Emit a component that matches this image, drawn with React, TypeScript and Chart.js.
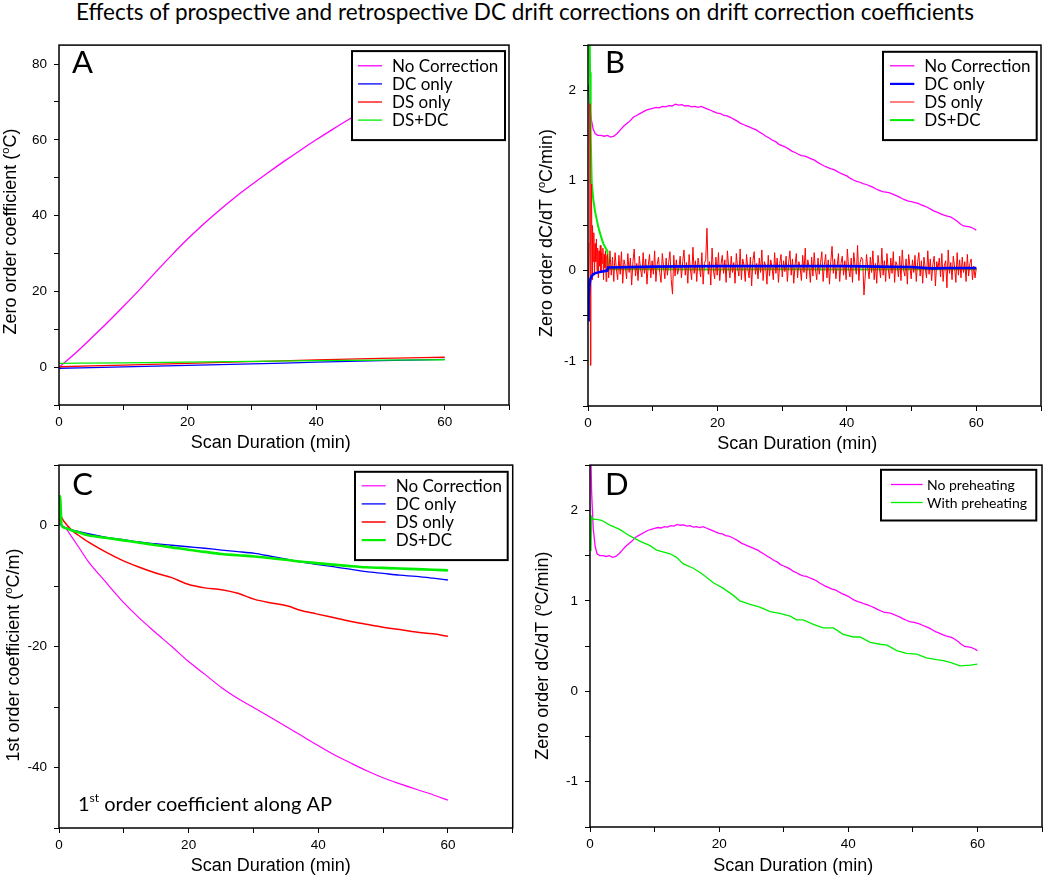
import React, { useEffect, useRef } from 'react';
import { Chart, registerables } from 'chart.js';

Chart.register(...registerables);
Chart.defaults.font.family = '"Liberation Sans", Arial, sans-serif';
Chart.defaults.color = '#000';

// ---------------- DATA ----------------
const chartTitle = 'Effects of prospective and retrospective DC drift corrections on drift correction coefficients';
const xTitle = 'Scan Duration (min)';

// Panel A: zero order coefficient
const aTimeCurve = [0, 2.5, 5, 7.5, 10, 12.5, 15, 17.5, 20, 22.5, 25, 27.5, 30, 32.5, 35, 37.5, 40, 42.5, 45, 47.5, 50, 52.5, 55, 57.5, 60];
const aNoCorrection = [0, 3.6, 7.6, 11.7, 16.0, 20.4, 25.0, 29.5, 33.8, 37.8, 41.5, 45.0, 48.2, 51.3, 54.3, 57.2, 60.0, 62.7, 65.3, 67.7, 70.0, 72.0, 74.0, 75.8, 77.5];
const aTimeFlat = [0, 10, 20, 30, 40, 50, 60];
const aDCOnly = [-0.3, 0.05, 0.45, 0.85, 1.3, 1.7, 2.05];
const aDSOnly = [0.1, 0.55, 1.0, 1.45, 1.9, 2.3, 2.6];
const aDSDC = [1.0, 1.1, 1.3, 1.5, 1.7, 1.85, 1.95];

// Panel B / D: zero order dC/dT, "No Correction" (= "No preheating")
const bNoCorrHeadTime = [0.05, 0.2, 0.35, 0.5, 0.8, 1.1];
const bNoCorrHead = [2.06, 1.9, 1.78, 1.68, 1.57, 1.52];
const dNoPreheatHeadTime = [0.1, 0.25, 0.5, 0.8, 1.1];
const dNoPreheatHead = [2.7, 2.2, 1.8, 1.6, 1.52];
const noCorrEarlyTime = [1.5, 2, 2.5, 3, 3.5, 4, 4.5, 5, 5.5, 6, 6.5, 7, 7.5, 8, 8.5, 9, 9.5];
const noCorrEarly = [1.5, 1.5, 1.49, 1.5, 1.48, 1.49, 1.52, 1.56, 1.6, 1.63, 1.66, 1.7, 1.72, 1.74, 1.76, 1.78, 1.79];
// sampled every 0.5 min from 10 to 60 min
const noCorrLateStart = 10;
const noCorrLateStep = 0.5;
const noCorrLate = [
  1.8, 1.81, 1.805, 1.82, 1.815, 1.83, 1.825, 1.845, 1.835, 1.84,
  1.825, 1.83, 1.815, 1.82, 1.81, 1.82, 1.805, 1.79, 1.775, 1.76,
  1.745, 1.74, 1.72, 1.715, 1.7, 1.68, 1.66, 1.635, 1.62, 1.605,
  1.59, 1.575, 1.56, 1.535, 1.515, 1.49, 1.47, 1.445, 1.43, 1.4,
  1.385, 1.37, 1.35, 1.325, 1.31, 1.29, 1.275, 1.27, 1.255, 1.24,
  1.225, 1.2, 1.18, 1.16, 1.145, 1.13, 1.12, 1.1, 1.08, 1.065,
  1.05, 1.025, 1.005, 0.99, 0.98, 0.965, 0.955, 0.94, 0.925, 0.905,
  0.89, 0.875, 0.87, 0.865, 0.85, 0.835, 0.82, 0.8, 0.785, 0.77,
  0.765, 0.755, 0.745, 0.73, 0.715, 0.7, 0.68, 0.66, 0.645, 0.63,
  0.615, 0.605, 0.595, 0.575, 0.55, 0.52, 0.495, 0.49, 0.485, 0.47,
  0.45,
];

const bDCTime = [0.05, 0.1, 0.2, 0.35, 0.5, 0.8, 1.2, 1.8, 2.5, 3.0, 3.1, 10, 20, 30, 40, 45, 50, 53, 56, 60];
const bDCOnly = [-0.55, -0.3, -0.17, -0.1, -0.07, -0.04, -0.025, -0.015, -0.005, 0.0, 0.035, 0.045, 0.05, 0.05, 0.05, 0.045, 0.04, 0.025, 0.03, 0.03];

const bDSDCTime = [0.2, 0.31, 0.41, 0.57, 0.8, 1.08, 1.6, 2.0, 2.37, 2.8, 3.0, 3.1, 10, 20, 30, 40, 50, 60];
const bDSDC = [3.2, 2.2, 1.52, 0.98, 0.8, 0.66, 0.48, 0.38, 0.3, 0.24, 0.22, 0.015, 0.015, 0.012, 0.015, 0.012, 0.015, 0.015];

const bDSEarlyTime = [0.1, 0.2, 0.3, 0.38, 0.45, 0.55, 0.62, 0.7, 0.8, 0.9, 1.0, 1.1, 1.2, 1.3, 1.4, 1.5, 1.6, 1.7, 1.8, 1.9, 2.0, 2.1, 2.2, 2.3, 2.4, 2.5, 2.6, 2.7, 2.8, 2.9];
const bDSEarly = [-0.2, 0.3, 1.85, -1.05, 0.4, 0.96, -0.1, 0.5, 0.1, 0.42, -0.05, 0.3, 0.1, 0.35, 0.0, 0.25, -0.08, 0.22, 0.05, 0.28, -0.02, 0.2, 0.08, 0.25, -0.1, 0.18, 0.03, 0.22, -0.12, 0.15];
// evenly sampled from 3 to 60 min
const bDSNoiseStart = 3;
const bDSNoiseEnd = 60;
const bDSNoise = [
  0.18, -0.08, 0.22, -0.05, 0.15, -0.12, 0.2, 0.02, -0.1, 0.17,
  -0.04, 0.21, -0.14, 0.12, 0.05, -0.09, 0.19, -0.02, 0.14, -0.16,
  0.1, 0.24, -0.06, 0.08, -0.11, 0.16, 0.01, -0.07, 0.2, -0.03,
  0.13, -0.15, 0.06, 0.18, -0.08, 0.11, -0.04, 0.22, -0.12, 0.07,
  0.15, -0.02, -0.13, 0.19, 0.04, -0.09, 0.14, -0.05, 0.09, 0.21,
  -0.1, -0.26, 0.17, -0.06, 0.12, -0.04, 0.03, 0.16, -0.08, 0.1,
  0.23, -0.05, 0.09, -0.14, 0.18, 0.02, -0.1, 0.26, -0.03, 0.11,
  -0.12, 0.14, 0.05, -0.07, 0.2, -0.15, 0.08, 0.12, 0.47, -0.04,
  0.1, -0.16, 0.25, 0.01, -0.09, 0.15, -0.05, 0.2, -0.11, 0.07,
  0.17, -0.03, 0.12, -0.13, 0.22, 0.04, -0.08, 0.16, -0.02, 0.09,
  -0.14, 0.19, 0.03, -0.06, 0.24, -0.1, 0.13, 0.06, -0.12, 0.18,
  0.02, -0.08, 0.15, -0.17, 0.11, 0.21, -0.04, 0.08, -0.09, 0.14,
  -0.02, 0.23, -0.11, 0.1, 0.05, -0.15, 0.17, -0.06, 0.12, 0.03,
  -0.1, 0.2, -0.03, 0.14, -0.13, 0.08, 0.18, -0.07, 0.11, -0.01,
  0.16, -0.12, 0.09, 0.22, -0.05, 0.13, -0.14, 0.06, 0.19, -0.08,
  0.1, 0.03, -0.11, 0.17, -0.02, 0.25, -0.09, 0.12, 0.04, -0.13,
  0.15, -0.06, 0.2, 0.01, -0.1, 0.14, -0.04, 0.09, 0.21, -0.12,
  0.07, 0.18, -0.08, 0.12, -0.15, 0.1, 0.27, -0.03, 0.13, -0.09,
  0.05, 0.19, -0.12, 0.08, 0.16, -0.05, 0.11, -0.1, 0.24, 0.02,
  -0.07, 0.14, -0.13, 0.2, 0.06, -0.04, 0.28, -0.11, 0.09, 0.15,
  0.12, -0.27, -0.06, 0.18, 0.03, -0.09, 0.15, -0.02, 0.22, -0.1,
  0.08, -0.14, 0.17, 0.04, -0.08, 0.25, -0.05, 0.11, -0.12, 0.19,
  0.02, -0.09, 0.14, -0.03, 0.21, -0.13, 0.1, 0.06, -0.07, 0.16,
  -0.11, 0.23, 0.01, -0.06, 0.13, -0.15, 0.18, 0.05, -0.09, 0.12,
  -0.02, 0.17, -0.12, 0.09, 0.2, -0.06, 0.11, -0.14, 0.15, 0.03,
  -0.08, 0.22, -0.04, 0.13, -0.11, 0.07, 0.16, -0.17, 0.1, 0.02,
  0.14, -0.07, 0.19, -0.12, 0.06, 0.11, -0.19, 0.23, -0.03, 0.09,
  -0.1, 0.16, 0.04, -0.13, 0.2, -0.05, 0.12, -0.08, 0.15, -0.02,
  0.1, -0.12, 0.18, -0.06, 0.08, 0.13, -0.1, 0.05, -0.08, 0.03,
];

// Panel C: 1st order coefficient
const cTime = [0, 0.15, 0.4, 0.9, 2.0, 3.0, 4.5, 7.1, 9.7, 12.2, 14.8, 17.4, 19.9, 22.5, 25.1, 27.6, 30.2, 32.8, 35.3, 37.2, 39.7, 42.3, 44.9, 47.4, 50.0, 52.6, 55.1, 57.7, 60];
const cNoCorrection = [0.3, 0.2, 0.0, -0.3, -1.9, -3.5, -5.9, -9.2, -12.4, -15.1, -17.6, -20.0, -22.4, -24.6, -26.8, -28.6, -30.2, -31.8, -33.4, -34.6, -36.2, -37.8, -39.2, -40.5, -41.7, -42.7, -43.6, -44.5, -45.4];
const cDCOnly = [0.2, 0.3, 0.0, -0.3, -0.7, -0.95, -1.35, -1.9, -2.3, -2.7, -3.0, -3.25, -3.5, -3.75, -4.05, -4.3, -4.6, -5.1, -5.6, -6.0, -6.4, -6.8, -7.2, -7.6, -7.9, -8.2, -8.4, -8.7, -9.0];
const cDSOnly = [0.5, 1.8, 1.35, 0.5, -0.8, -1.6, -2.7, -4.3, -5.7, -6.8, -7.8, -8.6, -9.7, -10.3, -10.6, -11.2, -12.2, -12.8, -13.3, -14.0, -14.6, -15.2, -15.8, -16.3, -16.8, -17.2, -17.6, -17.9, -18.3];
const cDSDC = [1.0, 4.9, 0.0, -0.4, -0.8, -1.1, -1.6, -2.0, -2.4, -2.8, -3.2, -3.6, -4.0, -4.35, -4.7, -4.9, -5.1, -5.4, -5.7, -5.95, -6.2, -6.45, -6.7, -6.9, -7.0, -7.1, -7.2, -7.3, -7.4];

// Panel D: with preheating
const dPreheatTime = [0.15, 0.25, 0.5, 1.0, 1.8, 3.0, 4.6, 6.1, 7.7, 9.3, 10.3, 12.4, 13.4, 14.4, 16.0, 17.5, 19.1, 20.6, 22.2, 23.2, 24.8, 26.3, 27.9, 29.4, 31.0, 32.0, 33.0, 34.6, 36.1, 37.7, 39.2, 40.8, 41.8, 43.4, 44.9, 46.0, 47.5, 49.0, 50.6, 52.1, 53.7, 54.7, 55.8, 57.3, 58.9, 60];
const dWithPreheat = [1.55, 1.93, 1.9, 1.9, 1.89, 1.84, 1.79, 1.72, 1.66, 1.61, 1.56, 1.52, 1.48, 1.41, 1.36, 1.29, 1.2, 1.14, 1.06, 1.0, 0.96, 0.93, 0.88, 0.86, 0.83, 0.79, 0.79, 0.74, 0.7, 0.7, 0.63, 0.6, 0.6, 0.54, 0.52, 0.51, 0.45, 0.42, 0.41, 0.37, 0.35, 0.34, 0.32, 0.28, 0.29, 0.3];

const legendA = ['No Correction', 'DC only', 'DS only', 'DS+DC'];
const legendD = ['No preheating', 'With preheating'];

// ---------------- STYLE ----------------
const MAGENTA = '#ff00ff';
const BLUE = '#0000ff';
const RED = '#ff0000';
const GREEN = '#00ee00';
const LABEL_FONT = 'Lato, "Open Sans", sans-serif';
const AXIS_FONT = '"Liberation Sans", Arial, sans-serif';

type Pt = { x: number; y: number };
const zip = (t: number[], v: number[]): Pt[] => t.map((x, i) => ({ x, y: v[i] }));
const grid = (start: number, step: number, v: number[]): Pt[] => v.map((y, i) => ({ x: start + i * step, y }));
const spread = (start: number, end: number, v: number[]): Pt[] =>
  v.map((y, i) => ({ x: start + (i * (end - start)) / (v.length - 1), y }));

const noCorrTail = [...zip(noCorrEarlyTime, noCorrEarly), ...grid(noCorrLateStart, noCorrLateStep, noCorrLate)];

type Series = { label: string; data: Pt[]; color: string; width: number; order: number; smooth?: boolean };
type LegendSpec = { rightGap: number; topGap: number; w: number; h: number; lineX0: number; lineX1: number; textX: number; firstRow: number; rowH: number; font: number };
type PanelSpec = {
  left: number; top: number; width: number; height: number;
  yWidth: number; xHeight: number; padTop: number; padRight: number;
  yMin: number; yMax: number; yStep: number; yLabelEvery: number;
  yTitle: [string, string, string]; yTitlePos: [number, number];
  xTitlePos: [number, number];
  letter: string; letterPos: [number, number];
  legend: LegendSpec;
  series: Series[];
  note?: [number, number];
};

const panels: PanelSpec[] = [
  {
    left: 0, top: 30, width: 525, height: 424,
    yWidth: 59, xHeight: 49, padTop: 6, padRight: 16,
    yMin: -10, yMax: 85, yStep: 10, yLabelEvery: 20,
    yTitle: ['Zero order coefficient (', 'o', 'C)'], yTitlePos: [9.5, 201.5],
    xTitlePos: [270.7, 411.7],
    letter: 'A', letterPos: [72, 42.7],
    legend: { rightGap: 4, topGap: 6, w: 153, h: 89, lineX0: 6, lineX1: 30, textX: 40, firstRow: 14.7, rowH: 18.1, font: 17 },
    series: [
      { label: legendA[0], data: zip(aTimeCurve, aNoCorrection), color: MAGENTA, width: 1.3, order: 3, smooth: true },
      { label: legendA[1], data: zip(aTimeFlat, aDCOnly), color: BLUE, width: 1.3, order: 2, smooth: true },
      { label: legendA[2], data: zip(aTimeFlat, aDSOnly), color: RED, width: 1.3, order: 1, smooth: true },
      { label: legendA[3], data: zip(aTimeFlat, aDSDC), color: GREEN, width: 1.3, order: 0, smooth: true },
    ],
  },
  {
    left: 525, top: 30, width: 525, height: 424,
    yWidth: 63, xHeight: 48, padTop: 6, padRight: 9,
    yMin: -1.5, yMax: 2.5, yStep: 0.5, yLabelEvery: 1,
    yTitle: ['Zero order dC/dT (', 'o', 'C/min)'], yTitlePos: [20.5, 203],
    xTitlePos: [272.3, 412.7],
    letter: 'B', letterPos: [80, 42.7],
    legend: { rightGap: 4.3, topGap: 6.7, w: 153.7, h: 88.3, lineX0: 7, lineX1: 31.3, textX: 41.3, firstRow: 14, rowH: 18.1, font: 17 },
    series: [
      { label: legendA[0], data: [...zip(bNoCorrHeadTime, bNoCorrHead), ...noCorrTail], color: MAGENTA, width: 1.3, order: 3 },
      { label: legendA[1], data: zip(bDCTime, bDCOnly), color: BLUE, width: 2.6, order: 0 },
      { label: legendA[2], data: [...zip(bDSEarlyTime, bDSEarly), ...spread(bDSNoiseStart, bDSNoiseEnd, bDSNoise)], color: RED, width: 1, order: 1 },
      { label: legendA[3], data: zip(bDSDCTime, bDSDC), color: GREEN, width: 2, order: 2 },
    ],
  },
  {
    left: 0, top: 450, width: 525, height: 425,
    yWidth: 59, xHeight: 47, padTop: 6, padRight: 12.3,
    yMin: -50, yMax: 10, yStep: 10, yLabelEvery: 20,
    yTitle: ['1st order coefficient (', 'o', 'C/m)'], yTitlePos: [12.5, 205],
    xTitlePos: [270.7, 415],
    letter: 'C', letterPos: [72.3, 45],
    legend: { rightGap: 5, topGap: 6.7, w: 152.7, h: 88.3, lineX0: 6.7, lineX1: 30.7, textX: 40.7, firstRow: 14, rowH: 18.1, font: 17 },
    series: [
      { label: legendA[0], data: zip(cTime, cNoCorrection), color: MAGENTA, width: 1.2, order: 3, smooth: true },
      { label: legendA[1], data: zip(cTime, cDCOnly), color: BLUE, width: 1.3, order: 1, smooth: true },
      { label: legendA[2], data: zip(cTime, cDSOnly), color: RED, width: 1.5, order: 2, smooth: true },
      { label: legendA[3], data: zip(cTime, cDSDC), color: GREEN, width: 2.6, order: 0, smooth: true },
    ],
    note: [78, 360.7],
  },
  {
    left: 525, top: 450, width: 525, height: 425,
    yWidth: 65, xHeight: 48, padTop: 8, padRight: 8,
    yMin: -1.5, yMax: 2.5, yStep: 0.5, yLabelEvery: 1,
    yTitle: ['Zero order dC/dT (', 'o', 'C/min)'], yTitlePos: [17, 205.7],
    xTitlePos: [268.3, 415],
    letter: 'D', letterPos: [80, 45],
    legend: { rightGap: 5.7, topGap: 4.7, w: 155.3, h: 50.7, lineX0: 10, lineX1: 41.6, textX: 46, firstRow: 14.7, rowH: 18, font: 14 },
    series: [
      { label: legendD[0], data: [...zip(dNoPreheatHeadTime, dNoPreheatHead), ...noCorrTail], color: MAGENTA, width: 1.3, order: 1 },
      { label: legendD[1], data: zip(dPreheatTime, dWithPreheat), color: GREEN, width: 1.3, order: 0 },
    ],
  },
];

function drawSupText(ctx: CanvasRenderingContext2D, parts: [string, string, string], cx: number, cy: number, rotate: boolean, size: number, family: string) {
  ctx.save();
  ctx.translate(cx, cy);
  if (rotate) ctx.rotate(-Math.PI / 2);
  const main = `${size}px ${family}`;
  const small = `${Math.round(size * 0.62)}px ${family}`;
  ctx.font = main;
  const w0 = ctx.measureText(parts[0]).width;
  const w2 = ctx.measureText(parts[2]).width;
  ctx.font = small;
  const w1 = ctx.measureText(parts[1]).width;
  let x = -(w0 + w1 + w2) / 2;
  const base = size * 0.36;
  ctx.textAlign = 'left';
  ctx.textBaseline = 'alphabetic';
  ctx.fillStyle = '#000';
  ctx.font = main;
  ctx.fillText(parts[0], x, base);
  x += w0;
  ctx.font = small;
  ctx.fillText(parts[1], x, base - size * 0.4);
  x += w1;
  ctx.font = main;
  ctx.fillText(parts[2], x, base);
  ctx.restore();
}

function makeDecor(spec: PanelSpec) {
  return {
    id: 'decor',
    afterDraw(chart: any) {
      const { ctx, chartArea: ca } = chart;
      ctx.save();
      // frame
      ctx.strokeStyle = '#000';
      ctx.lineWidth = 1.5;
      ctx.strokeRect(ca.left, ca.top, ca.right - ca.left, ca.bottom - ca.top);
      // panel letter
      ctx.fillStyle = '#000';
      ctx.font = `31px ${LABEL_FONT}`;
      ctx.textAlign = 'left';
      ctx.textBaseline = 'alphabetic';
      ctx.fillText(spec.letter, spec.letterPos[0], spec.letterPos[1]);
      // legend
      const lg = spec.legend;
      const bx = ca.right - lg.rightGap - lg.w;
      const by = ca.top + lg.topGap;
      ctx.fillStyle = '#fff';
      ctx.fillRect(bx, by, lg.w, lg.h);
      ctx.strokeStyle = '#000';
      ctx.lineWidth = 2;
      ctx.strokeRect(bx, by, lg.w, lg.h);
      chart.data.datasets.forEach((ds: any, i: number) => {
        const y = by + lg.firstRow + i * lg.rowH;
        ctx.strokeStyle = ds.borderColor;
        ctx.lineWidth = Math.min(ds.borderWidth, 2.2);
        ctx.beginPath();
        ctx.moveTo(bx + lg.lineX0, y);
        ctx.lineTo(bx + lg.lineX1, y);
        ctx.stroke();
        ctx.fillStyle = '#000';
        ctx.font = `${lg.font}px ${LABEL_FONT}`;
        ctx.textBaseline = 'middle';
        ctx.fillText(ds.label, bx + lg.textX, y + 0.5);
      });
      // axis titles
      drawSupText(ctx, spec.yTitle, spec.yTitlePos[0], spec.yTitlePos[1], true, 18, AXIS_FONT);
      drawSupText(ctx, [xTitle, '', ''], spec.xTitlePos[0], spec.xTitlePos[1], false, 18, AXIS_FONT);
      // note
      if (spec.note) {
        let x = spec.note[0];
        const y = spec.note[1];
        ctx.fillStyle = '#000';
        ctx.textBaseline = 'alphabetic';
        ctx.font = `20px ${LABEL_FONT}`;
        ctx.fillText('1', x, y);
        x += ctx.measureText('1').width;
        ctx.font = `12px ${LABEL_FONT}`;
        ctx.fillText('st', x, y - 8.5);
        x += ctx.measureText('st').width;
        ctx.font = `20px ${LABEL_FONT}`;
        ctx.fillText(' order coefficient along AP', x, y);
      }
      ctx.restore();
    },
  };
}

const isMultiple = (v: number, m: number) => Math.abs(v / m - Math.round(v / m)) < 1e-9;

function Panel({ spec }: { spec: PanelSpec }) {
  const ref = useRef<HTMLCanvasElement>(null);
  useEffect(() => {
    const canvas = ref.current;
    if (!canvas) return;
    const tickGrid = { display: true, drawOnChartArea: false, drawTicks: true, tickLength: 5, color: '#000', lineWidth: 1 };
    const chart = new Chart(canvas, {
      type: 'line',
      data: {
        datasets: spec.series.map((s) => ({
          label: s.label,
          data: s.data,
          borderColor: s.color,
          backgroundColor: s.color,
          borderWidth: s.width,
          pointRadius: 0,
          tension: 0,
          cubicInterpolationMode: s.smooth ? 'monotone' : 'default',
          fill: false,
          order: s.order,
        })),
      },
      options: {
        responsive: false,
        animation: false,
        events: [],
        parsing: false as any,
        normalized: true,
        layout: { padding: { left: 0, top: spec.padTop, right: spec.padRight, bottom: 0 } },
        plugins: { legend: { display: false }, tooltip: { enabled: false }, title: { display: false } },
        scales: {
          x: {
            type: 'linear',
            min: 0,
            max: 70,
            afterFit: (s: any) => { s.height = spec.xHeight; },
            border: { display: false },
            grid: tickGrid,
            ticks: {
              stepSize: 10, autoSkip: false, includeBounds: false, maxRotation: 0, padding: 4.5,
              color: '#000', font: { size: 13.5 },
              callback: (v: any) => (isMultiple(Number(v), 20) ? String(v) : ''),
            },
            title: { display: false },
          },
          y: {
            type: 'linear',
            min: spec.yMin,
            max: spec.yMax,
            afterFit: (s: any) => { s.width = spec.yWidth; },
            border: { display: false },
            grid: tickGrid,
            ticks: {
              stepSize: spec.yStep, autoSkip: false, includeBounds: false, padding: 7,
              color: '#000', font: { size: 13.5 },
              callback: (v: any) => (isMultiple(Number(v), spec.yLabelEvery) ? String(v) : ''),
            },
            title: { display: false },
          },
        },
      } as any,
      plugins: [makeDecor(spec)],
    });
    return () => chart.destroy();
  }, [spec]);
  return (
    <canvas
      ref={ref}
      width={spec.width}
      height={spec.height}
      style={{ position: 'absolute', left: spec.left, top: spec.top, width: spec.width, height: spec.height }}
    />
  );
}

export default function App() {
  return (
    <div style={{ position: 'absolute', left: 0, top: 0, width: 1050, height: 875, background: '#fff', overflow: 'hidden' }}>
      <div
        style={{
          position: 'absolute', left: 0, top: -2, width: 1050, textAlign: 'center',
          fontFamily: LABEL_FONT, fontSize: 22.5, color: '#000', whiteSpace: 'nowrap',
        }}
      >
        {chartTitle}
      </div>
      {panels.map((p, i) => (
        <Panel key={i} spec={p} />
      ))}
    </div>
  );
}
